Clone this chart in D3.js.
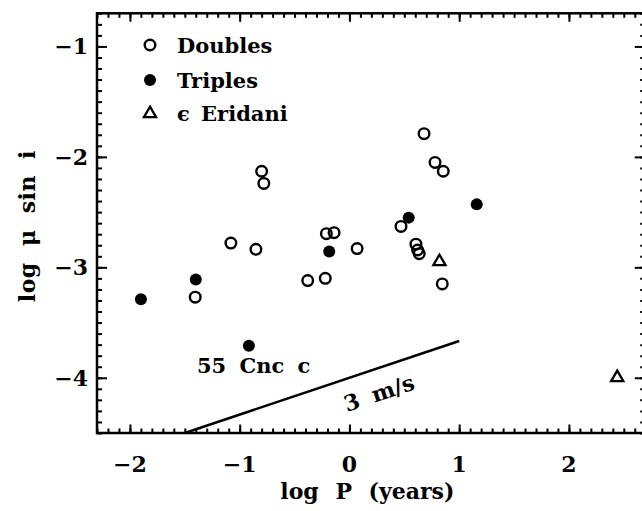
<!DOCTYPE html>
<html>
<head>
<meta charset="utf-8">
<script src="https://cdn.jsdelivr.net/npm/d3@7"></script>
<style>
  body { margin: 0; background: #fff; }
  svg { display: block; }
  text { font-family: "DejaVu Serif", serif; font-weight: bold; fill: #000; }
</style>
</head>
<body>
<svg id="chart" width="642" height="511"></svg>
<script>
// open circles
const doublesX = [-1.08, -0.852, -0.80, -0.78, -1.405, -0.38, -0.22, -0.21, -0.14, 0.07, 0.47, 0.606, 0.621, 0.636, 0.68, 0.78, 0.855, 0.846];
const doublesY = [-2.78, -2.837, -2.13, -2.24, -3.27, -3.12, -3.10, -2.695, -2.686, -2.83, -2.63, -2.79, -2.843, -2.876, -1.79, -2.05, -2.13, -3.15];
// filled circles
const triplesX = [-1.90, -1.40, -0.916, -0.184, 0.54, 1.16];
const triplesY = [-3.29, -3.11, -3.71, -2.857, -2.55, -2.43];
// triangles
const eridaniX = [0.82, 2.44];
const eridaniY = [-2.94, -3.99];
// 3 m/s line
const lineX = [-1.5, 1.0];
const lineY = [-4.5, -3.667];

const xTicks = [-2, -1, 0, 1, 2];
const xTickLabels = ["\u22122", "\u22121", "0", "1", "2"];
const yTicks = [-1, -2, -3, -4];
const yTickLabels = ["\u22121", "\u22122", "\u22123", "\u22124"];
const legendLabels = ["Doubles", "Triples", "\u03f5 Eridani"];

const svg = d3.select("#chart");
const plotL = 97, plotR = 645.75, plotT = 13.3, plotB = 433;

const x = d3.scaleLinear().domain([-2.3, 2.7]).range([plotL, plotR]);
const y = d3.scaleLinear().domain([-4.5, -0.7]).range([plotB, plotT]);

const xMinor = d3.range(-23, 28).map(d => d / 10);
const yMinor = d3.range(-45, -6).map(d => d / 10);

function tickAxis(axis, pos, values, size) {
  const g = svg.append("g").attr("transform", pos).call(axis.tickValues(values).tickSize(size).tickSizeOuter(0).tickFormat(""));
  g.select(".domain").remove();
  g.selectAll(".tick line").attr("stroke", "#000").attr("stroke-width", 2);
}

tickAxis(d3.axisBottom(x), `translate(0,${plotB})`, xMinor, -4.5);
tickAxis(d3.axisBottom(x), `translate(0,${plotB})`, xTicks, -8.5);
tickAxis(d3.axisTop(x), `translate(0,${plotT})`, xMinor, -4.5);
tickAxis(d3.axisTop(x), `translate(0,${plotT})`, xTicks, -8.5);
tickAxis(d3.axisLeft(y), `translate(${plotL},0)`, yMinor, -5);
tickAxis(d3.axisLeft(y), `translate(${plotL},0)`, yTicks, -10);
tickAxis(d3.axisRight(y), `translate(${plotR},0)`, yMinor, -5.5);
tickAxis(d3.axisRight(y), `translate(${plotR},0)`, yTicks, -11);

svg.append("rect")
  .attr("x", plotL).attr("y", plotT)
  .attr("width", plotR - plotL).attr("height", plotB - plotT)
  .attr("fill", "none").attr("stroke", "#000").attr("stroke-width", 2.5);

// tick labels
svg.append("g").selectAll("text")
  .data(xTicks)
  .join("text")
  .attr("x", d => x(d))
  .attr("y", 472)
  .attr("text-anchor", "middle")
  .attr("font-size", 22)
  .text((d, i) => xTickLabels[i]);

svg.append("g").selectAll("text")
  .data(yTicks)
  .join("text")
  .attr("x", 88)
  .attr("y", d => y(d) + 8)
  .attr("text-anchor", "end")
  .attr("font-size", 22)
  .text((d, i) => yTickLabels[i]);

// axis titles
svg.append("text")
  .attr("x", (plotL + plotR) / 2 - 4)
  .attr("y", 499)
  .attr("text-anchor", "middle")
  .attr("font-size", 22)
  .attr("word-spacing", 9)
  .text("log P (years)");

svg.append("text")
  .attr("transform", `translate(35,${(plotT + plotB) / 2 + 3}) rotate(-90)`)
  .attr("text-anchor", "middle")
  .attr("font-size", 22)
  .attr("word-spacing", 8)
  .attr("letter-spacing", 0.5)
  .text("log \u03bc sin i");

// 3 m/s line
svg.append("path")
  .datum(lineX.map((d, i) => [d, lineY[i]]))
  .attr("d", d3.line().x(d => x(d[0])).y(d => y(d[1])))
  .attr("fill", "none")
  .attr("stroke", "#000")
  .attr("stroke-width", 2.5);

const ang = Math.atan2(y(lineY[1]) - y(lineY[0]), x(lineX[1]) - x(lineX[0])) * 180 / Math.PI;
svg.append("text")
  .attr("transform", `translate(347,412) rotate(${ang})`)
  .attr("font-size", 22)
  .attr("word-spacing", 6)
  .text("3 m/s");

svg.append("text")
  .attr("x", 197)
  .attr("y", 373)
  .attr("font-size", 21)
  .attr("word-spacing", 6)
  .text("55 Cnc c");

// points
const tri = d3.symbol().type(d3.symbolTriangle).size(64);

svg.append("g").selectAll("circle")
  .data(doublesX)
  .join("circle")
  .attr("cx", d => x(d))
  .attr("cy", (d, i) => y(doublesY[i]))
  .attr("r", 5.3)
  .attr("fill", "none")
  .attr("stroke", "#000")
  .attr("stroke-width", 2.4);

svg.append("g").selectAll("circle")
  .data(triplesX)
  .join("circle")
  .attr("cx", d => x(d))
  .attr("cy", (d, i) => y(triplesY[i]))
  .attr("r", 6)
  .attr("fill", "#000");

svg.append("g").selectAll("path")
  .data(eridaniX)
  .join("path")
  .attr("d", tri)
  .attr("transform", (d, i) => `translate(${x(d)},${y(eridaniY[i]) + 1})`)
  .attr("fill", "none")
  .attr("stroke", "#000")
  .attr("stroke-width", 2.3);

// legend
const legend = svg.append("g");
const legendY = [45, 80, 112.7];
legend.append("circle").attr("cx", 150).attr("cy", legendY[0]).attr("r", 5.3)
  .attr("fill", "none").attr("stroke", "#000").attr("stroke-width", 2.4);
legend.append("circle").attr("cx", 150).attr("cy", legendY[1]).attr("r", 6).attr("fill", "#000");
legend.append("path").attr("d", tri).attr("transform", `translate(150,${legendY[2] + 1})`)
  .attr("fill", "none").attr("stroke", "#000").attr("stroke-width", 2.3);
legend.selectAll("text")
  .data(legendLabels)
  .join("text")
  .attr("x", 177)
  .attr("y", (d, i) => legendY[i] + 8)
  .attr("font-size", 21)
  .attr("word-spacing", 4)
  .text(d => d);
</script>
</body>
</html>
